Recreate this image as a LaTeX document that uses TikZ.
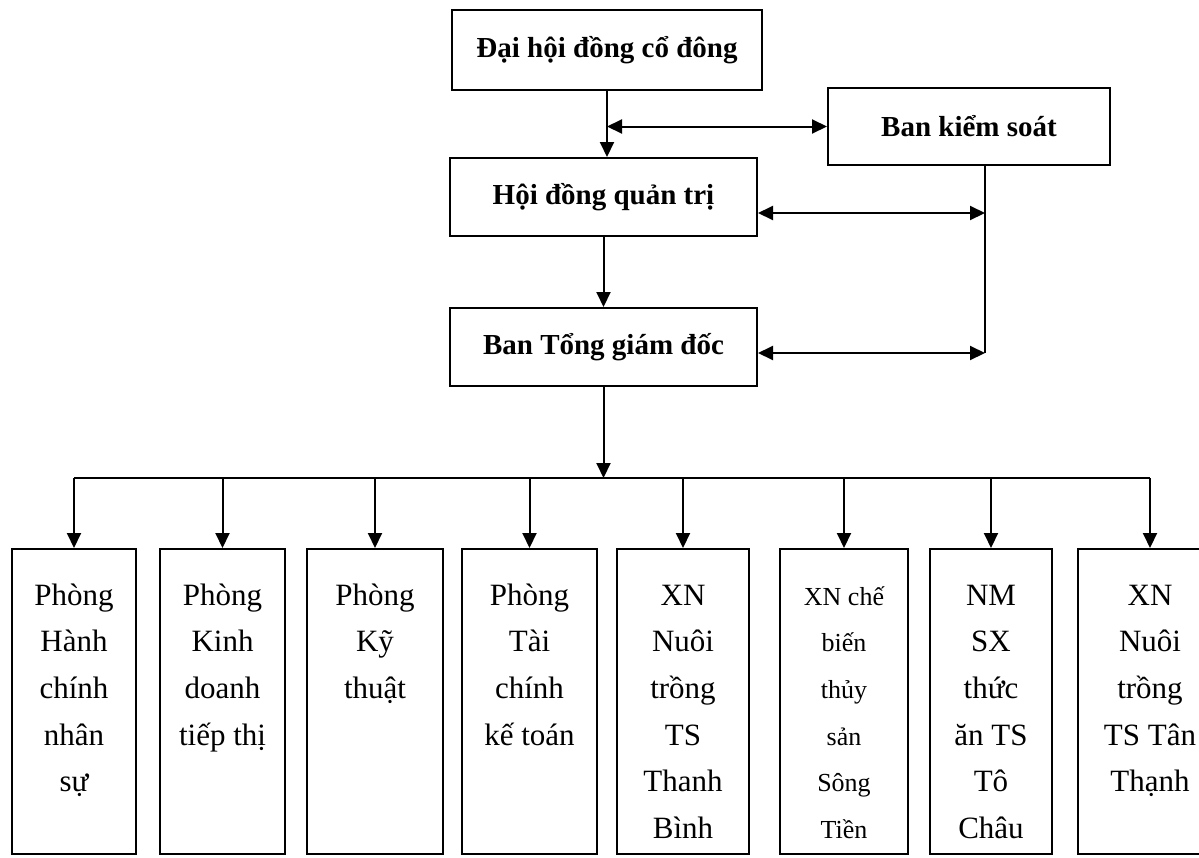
\documentclass[tikz,border=0pt]{standalone}
\usepackage{fontspec}
\setmainfont{Liberation Serif}
\usetikzlibrary{arrows.meta}

%% Text of one unit box: fixed height, first line set down from the top
\newcommand{\unitbox}[2]{\parbox[c][152.5pt][t]{#1}{\centering\rule{0pt}{28pt}#2}}

\begin{document}
\begin{tikzpicture}[x=0.5pt, y=-0.5pt, line width=1pt,
		>={Triangle[length=7.5pt, width=7pt]},
		board/.style={draw, line width=1pt, inner sep=2pt, font=\fontsize{14.5}{17}\selectfont\bfseries},
		unit/.style={draw, line width=1pt, inner sep=0pt, anchor=north, font=\fontsize{15.5}{23.35}\selectfont}]
	\useasboundingbox (0,0) rectangle (1199,857);

	%% The management boxes
	\node at (607,50) [board, minimum width=155pt, minimum height=40pt] (dh) {Đại hội đồng cổ đông};	% Called `dh'
	\node at (969,126.5) [board, minimum width=141pt, minimum height=38.5pt] (bks) {Ban kiểm soát};
	\node at (603.5,197) [board, minimum width=153.5pt, minimum height=39pt] (hdqt) {Hội đồng quản trị};
	\node at (603.5,347) [board, minimum width=153.5pt, minimum height=39pt] (btgd) {Ban Tổng giám đốc};

	%% The departments and units -- tops on one line
	\node at (74,548) [unit] (b1) {\unitbox{62pt}{Phòng\\Hành\\chính\\nhân\\sự}};
	\node at (222.5,548) [unit] (b2) {\unitbox{62.5pt}{Phòng\\Kinh\\doanh\\tiếp thị}};
	\node at (375,548) [unit] (b3) {\unitbox{68pt}{Phòng\\Kỹ\\thuật}};
	\node at (529.5,548) [unit] (b4) {\unitbox{67.5pt}{Phòng\\Tài\\chính\\kế toán}};
	\node at (683,548) [unit] (b5) {\unitbox{66pt}{XN\\Nuôi\\trồng\\TS\\Thanh\\Bình}};
	\node at (844,548) [unit] (b6) {\unitbox{64pt}{\fontsize{13}{23.35}\selectfont XN chế\\biến\\thủy\\sản\\Sông\\Tiền}};
	\node at (991,548) [unit] (b7) {\unitbox{61pt}{NM\\SX\\thức\\ăn TS\\Tô\\Châu}};
	\node at (1150,548) [unit] (b8) {\unitbox{72pt}{XN\\Nuôi\\trồng\\TS Tân\\Thạnh}};	% Cut by the page edge

	%% Top part of the chart
	\draw [->] (dh.south) -- (dh.south |- hdqt.north);
	\draw [<->] (dh.south |- bks.west) -- (bks.west);	% Control board link
	\coordinate (ks) at (985,165);				% Foot of the control board line
	\draw (ks) -- (985,353);
	\draw [<->] ([yshift=-8pt]hdqt.east) -- ([yshift=-8pt]hdqt.east -| ks);
	\draw [<->] ([yshift=-3pt]btgd.east) -- ([yshift=-3pt]btgd.east -| ks);
	\draw [->] (hdqt.south) -- (btgd.north);

	%% The bus down to every unit
	\coordinate (bus) at (603.5,478);
	\draw [->] (btgd.south) -- (bus);
	\draw (b1.north |- bus) -- (b8.north |- bus);
	\foreach \n in {b1,b2,b3,b4,b5,b6,b7,b8}
		\draw [->] (\n.north |- bus) -- (\n.north);
\end{tikzpicture}
\end{document}
